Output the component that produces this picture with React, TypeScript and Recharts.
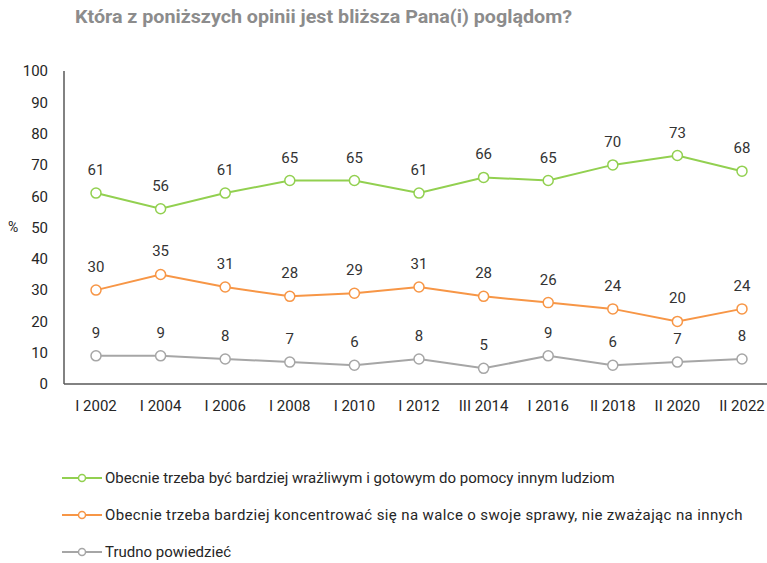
import React from 'react';
import { LineChart, Line, XAxis, YAxis, LabelList, Label } from 'recharts';

const periods = ['I 2002', 'I 2004', 'I 2006', 'I 2008', 'I 2010', 'I 2012', 'III 2014', 'I 2016', 'II 2018', 'II 2020', 'II 2022'];
const helpOthers = [61, 56, 61, 65, 65, 61, 66, 65, 70, 73, 68];
const ownAffairs = [30, 35, 31, 28, 29, 31, 28, 26, 24, 20, 24];
const hardToSay = [9, 9, 8, 7, 6, 8, 5, 9, 6, 7, 8];
const yTicks = [0, 10, 20, 30, 40, 50, 60, 70, 80, 90, 100];

const series = [
  { key: 'help', name: 'Obecnie trzeba być bardziej wrażliwym i gotowym do pomocy innym ludziom', color: '#92d050', spacing: 0 },
  { key: 'own', name: 'Obecnie trzeba bardziej koncentrować się na walce o swoje sprawy, nie zważając na innych', color: '#f79646', spacing: 0.37 },
  { key: 'hard', name: 'Trudno powiedzieć', color: '#a6a6a6', spacing: 0 },
];

const data = periods.map((p, i) => ({
  period: p,
  help: helpOthers[i],
  own: ownAffairs[i],
  hard: hardToSay[i],
}));

const FONT = 'Roboto, sans-serif';

export default function App() {
  return (
    <div style={{ position: 'absolute', left: 0, top: 0, width: 767, height: 563, background: '#fff', fontFamily: FONT }}>
      <svg width={767} height={40} style={{ position: 'absolute', left: 0, top: 0 }}>
        <text x={75} y={23} fontSize={18.5} fontWeight={700} fill="#8c8c8c" fontFamily={FONT} textLength={497} lengthAdjust="spacingAndGlyphs">
          Która z poniższych opinii jest bliższa Pana(i) poglądom?
        </text>
      </svg>
      <div style={{ position: 'absolute', left: 0, top: 0 }}>
        <LineChart width={767} height={420} data={data} margin={{ top: 71, right: 0, bottom: 6, left: 0 }}>
          <XAxis
            dataKey="period"
            padding={{ left: 32, right: 25 }}
            axisLine={{ stroke: '#595959', strokeWidth: 1.5 }}
            tickLine={false}
            tick={{ fill: '#262626', fontSize: 15, fontFamily: FONT }}
            tickMargin={10}
            height={30}
            interval={0}
          />
          <YAxis
            domain={[0, 100]}
            ticks={yTicks}
            width={64}
            axisLine={{ stroke: '#595959', strokeWidth: 1.5 }}
            tickLine={false}
            tickSize={0}
            tickMargin={16}
            tick={{ fill: '#262626', fontSize: 15, fontFamily: FONT }}
          >
            <Label value="%" position="insideLeft" offset={8} fill="#262626" fontSize={14} fontFamily={FONT} />
          </YAxis>
          {series.map((s) => (
            <Line
              key={s.key}
              dataKey={s.key}
              name={s.name}
              stroke={s.color}
              strokeWidth={2}
              dot={{ r: 5, fill: '#fff', stroke: s.color, strokeWidth: 1.5 }}
              isAnimationActive={false}
            >
              <LabelList dataKey={s.key} position="top" offset={18} fill="#333" fontSize={15} fontFamily={FONT} />
            </Line>
          ))}
        </LineChart>
      </div>
      <div style={{ position: 'absolute', left: 62, top: 467 }}>
        {series.map((s) => (
          <div key={s.key} style={{ display: 'flex', alignItems: 'center', height: 22, marginBottom: 15, fontSize: 15, color: '#262626', whiteSpace: 'nowrap' }}>
            <svg width={40} height={12} style={{ marginRight: 3, flexShrink: 0 }}>
              <line x1={0} y1={6} x2={40} y2={6} stroke={s.color} strokeWidth={2} />
              <circle cx={20} cy={6} r={3.5} fill="#fff" stroke={s.color} strokeWidth={1.5} />
            </svg>
            <span style={{ letterSpacing: s.spacing }}>{s.name}</span>
          </div>
        ))}
      </div>
    </div>
  );
}
